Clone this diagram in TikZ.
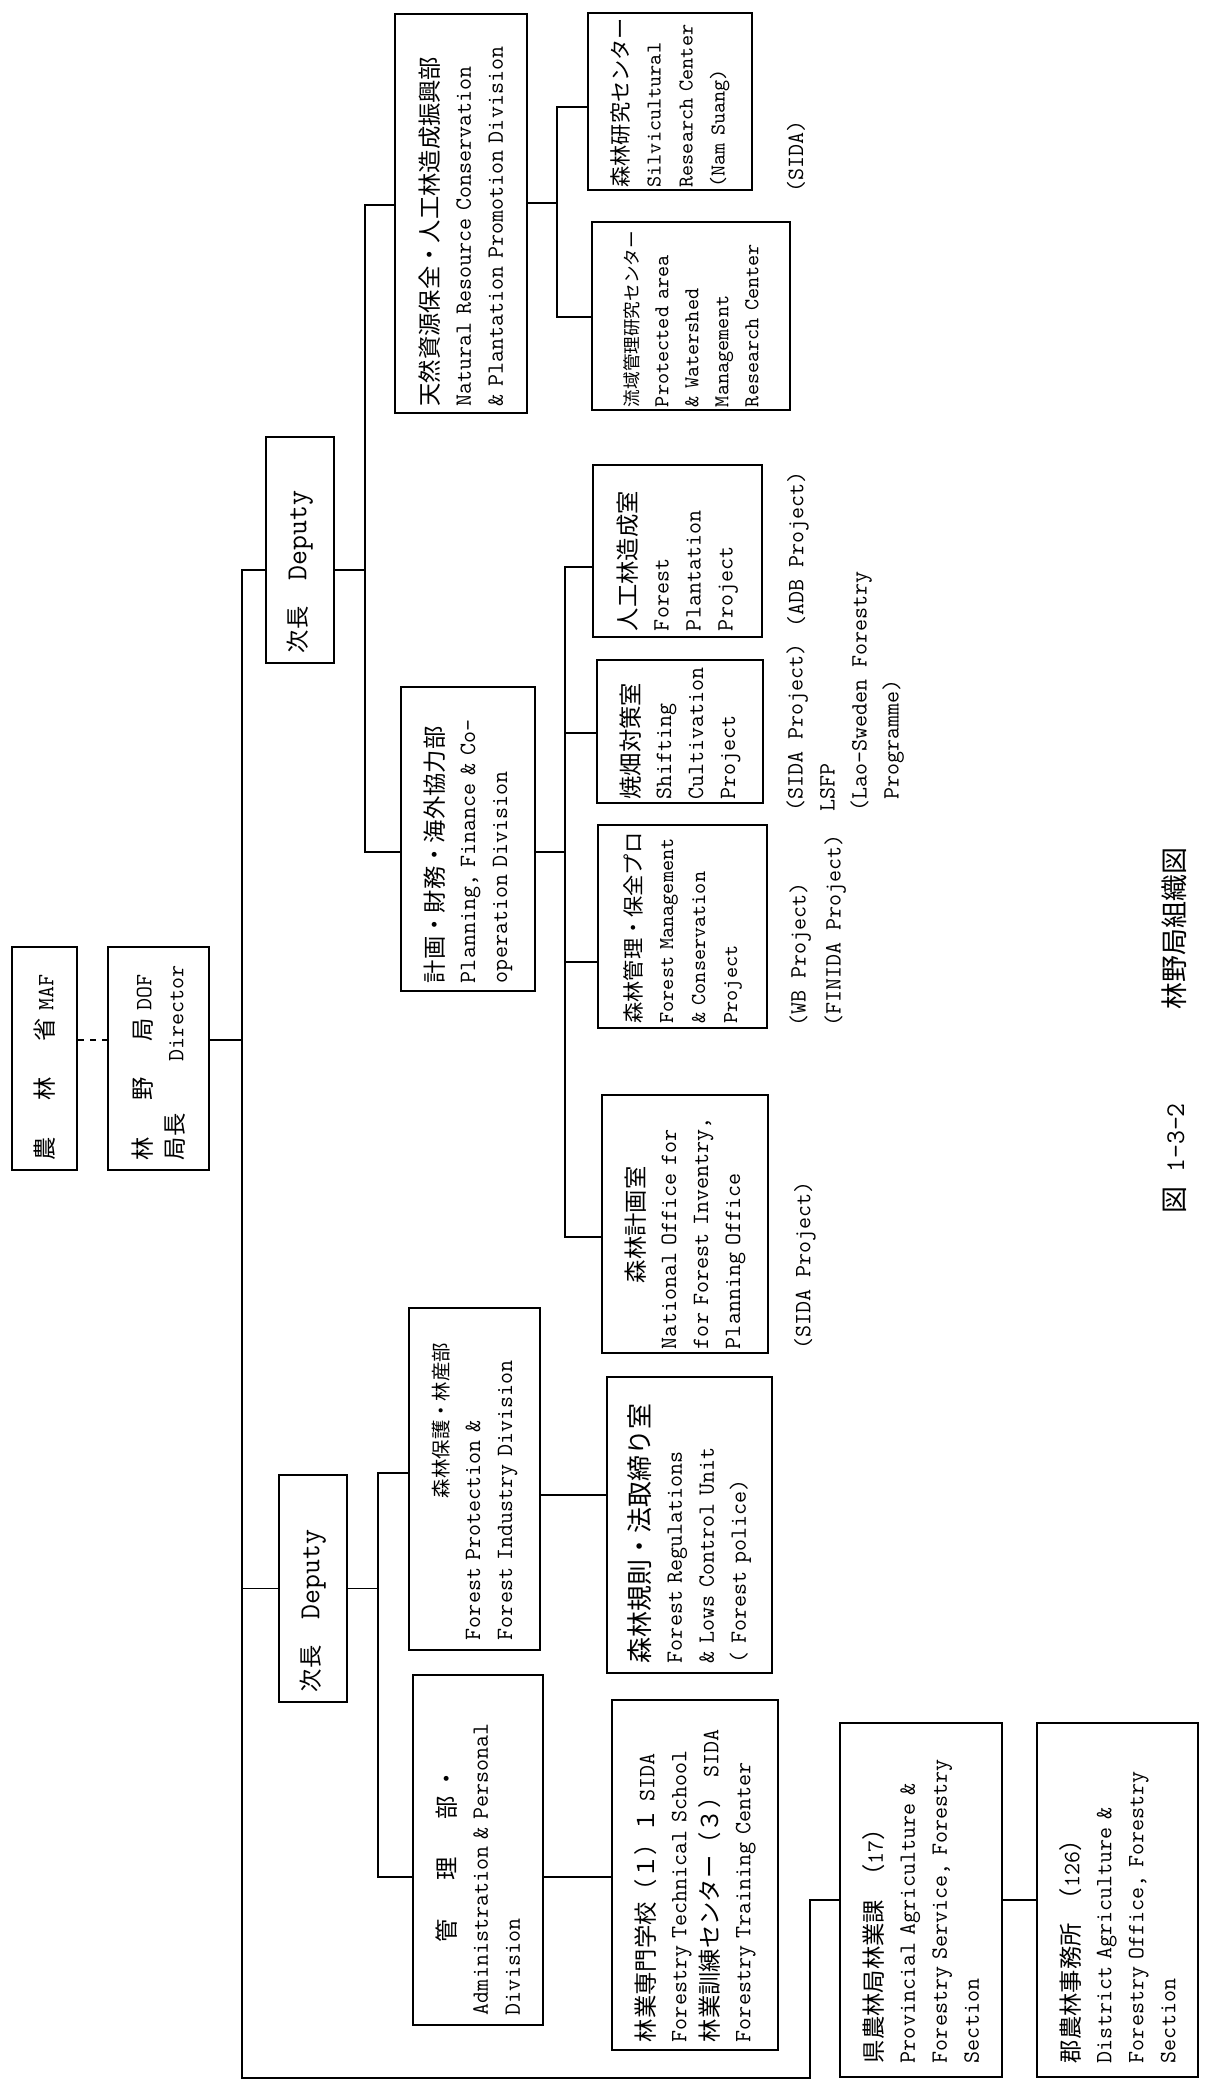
\documentclass[tikz,border=0pt]{standalone}
\usepackage{fontspec}
\usepackage{graphicx}
\newfontfamily\jp{Noto Sans CJK JP}
\begin{document}
\begin{tikzpicture}[x=0.5pt,y=-0.5pt,
  box/.style={draw, line width=1.1pt, rotate=90, inner sep=0pt, align=left,
    font=\ttfamily\fontsize{11.66}{16}\selectfont},
  lab/.style={rotate=90, inner sep=0pt, align=left,
    font=\ttfamily\fontsize{11.66}{16}\selectfont},
  link/.style={line width=0.9pt}]
\useasboundingbox (0,0) rectangle (1205,2082);

% ---- boxes ----
\node[box, minimum width=111.5pt, minimum height=32.5pt, text width=101.5pt] (maf) at (44.5,1058.5)
  {{\jp 農}\hspace{18pt}{\jp 林}\hspace{18pt}{\jp 省} MAF};
\node[box, minimum width=111.5pt, minimum height=50.5pt, text width=101.5pt] (dof) at (158.5,1058.5)
  {{\jp 林}\hspace{18pt}{\jp 野}\hspace{18pt}{\jp 局} DOF\\{\jp 局長}\hspace{26pt}Director};
\node[box, minimum width=113pt, minimum height=34pt, text width=103pt] (dep2) at (300,550)
  {{\jp 次長}\hspace{13pt}{\fontsize{14.5}{16}\selectfont Deputy}};
\node[box, minimum width=113.5pt, minimum height=34pt, text width=103.5pt] (dep1) at (313,1588.5)
  {{\jp 次長}\hspace{13pt}{\fontsize{14.5}{16}\selectfont Deputy}};
\node[box, minimum width=199.5pt, minimum height=66pt, text width=193pt] (nr) at (461,213.5)
  {{\jp 天然資源保全・人工林造成振興部}\\Natural Resource Conservation\\\& Plantation Promotion Division};
\node[box, minimum width=88.5pt, minimum height=82pt, text width=86pt,
  font=\ttfamily\fontsize{10.6}{16}\selectfont] (silv) at (670,101.5)
  {{\jp 森林研究センター}\\Silvicultural\\Research Center\\(Nam Suang)};
\node[box, minimum width=94pt, minimum height=99pt, text width=91pt,
  font=\ttfamily\fontsize{10.6}{15}\selectfont] (prot) at (691,316)
  {{\jp\fontsize{8.8}{15}\selectfont 流域管理研究センター}\\Protected area\\\& Watershed\\Management\\Research Center};
\node[box, minimum width=152pt, minimum height=67pt, text width=144pt] (plan) at (468,839)
  {{\jp 計画・財務・海外協力部}\\Planning, Finance \& Co-\\operation Division};
\node[box, minimum width=86pt, minimum height=84.5pt, text width=80pt] (fplant) at (677.5,551)
  {{\jp 人工林造成室}\\Forest\\Plantation\\Project};
\node[box, minimum width=71.5pt, minimum height=83pt, text width=68pt] (shift) at (680,731.5)
  {{\jp 焼畑対策室}\\Shifting\\Cultivation\\Project};
\node[box, minimum width=101.5pt, minimum height=84.5pt, text width=97pt,
  font=\ttfamily\fontsize{10.6}{16}\selectfont] (fmgmt) at (682.5,926.5)
  {{\jp 森林管理・保全プロ}\\Forest Management\\\& Conservation\\Project};
\node[box, minimum width=129pt, minimum height=83pt, text width=125pt] (natl) at (685,1224)
  {\hspace*{33pt}{\jp 森林計画室}\\National Office for\\for Forest Inventry,\\Planning Office};
\node[box, minimum width=171pt, minimum height=65.5pt, text width=161pt] (fprot) at (474.5,1479)
  {\hspace*{71pt}{\jp\fontsize{9.7}{16}\selectfont 森林保護・林産部}\\Forest Protection \&\\Forest Industry Division};
\node[box, minimum width=148pt, minimum height=82.5pt, text width=138pt] (freg) at (689.5,1525)
  {{\jp\fontsize{13}{16}\selectfont 森林規則・法取締り室}\\Forest Regulations\\\& Lows Control Unit\\( Forest police)};
\node[box, minimum width=175pt, minimum height=65pt, text width=165pt] (admin) at (478,1850)
  {\hspace*{36.5pt}{\jp 管}\hspace{19pt}{\jp 理}\hspace{19pt}{\jp 部}\hspace{3pt}{\jp ・}\\Administration \& Personal\\Division};
\node[box, minimum width=175pt, minimum height=83pt, text width=167pt] (school) at (695,1875)
  {{\jp 林業専門学校（１）１} SIDA\\Forestry Technical School\\{\jp 林業訓練センター（３）} SIDA\\Forestry Training Center};
\node[box, minimum width=177pt, minimum height=81pt, text width=163pt] (prov) at (921,1900)
  {{\jp 県農林局林業課}\hspace{6pt}{\jp （}17{\jp ）}\\Provincial Agriculture \&\\Forestry Service, Forestry\\Section};
\node[box, minimum width=177pt, minimum height=80.5pt, text width=163pt] (dist) at (1117.5,1900)
  {{\jp 郡農林事務所}\hspace{6pt}{\jp （}126{\jp ）}\\District Agriculture \&\\Forestry Office, Forestry\\Section};

% ---- labels ----
\node[lab, anchor=west] (lsilv) at (796,193) {(SIDA)};
\node[lab, anchor=west] (ladb) at (798,628) {(ADB Project)};
\node[lab, anchor=north west] (lshift) at (786,812)
  {(SIDA Project)\\LSFP\\(Lao-Sweden Forestry\\\hspace*{6pt}Programme)};
\node[lab, anchor=north west, font=\ttfamily\fontsize{11.66}{17.5}\selectfont] (lfm) at (789,1027)
  {(WB Project)\\(FINIDA Project)};
\node[lab, anchor=west] (lnat) at (805,1350) {(SIDA Project)};
\node[lab, anchor=west, font=\ttfamily\fontsize{13.5}{16}\selectfont] (cap) at (1174,1214)
  {{\jp 図} 1-3-2\hspace{47pt}{\jp 林野局組織図}};

% ---- connectors ----
\coordinate (trTop) at (242,570);
\coordinate (trBot) at (242,2078);
\coordinate (pvBot) at (810,2078);
\draw[link, dashed] (maf.south |- 0,1040) -- (dof.north |- 0,1040);
\draw[link] (dof.south |- 0,1040) -- (trTop |- 0,1040);
\draw[link] (dep2.north |- trTop) -- (trTop) -- (trBot) -- (pvBot) |- (prov.north);
\draw[link] (trTop |- dep1.north) -- (dep1.north);

\coordinate (f2a) at (365,205);
\coordinate (f2b) at (365,852);
\draw[link] (dep2.south |- trTop) -- (f2a |- trTop);
\draw[link] (nr.north |- f2a) -- (f2a) -- (f2b) -- (plan.north |- f2b);

\coordinate (fna) at (557,107);
\coordinate (fnb) at (557,317);
\draw[link] (nr.south |- 0,203) -- (fna |- 0,203);
\draw[link] (silv.north |- fna) -- (fna) -- (fnb) -- (prot.north |- fnb);

\coordinate (fpa) at (565,567);
\coordinate (fpb) at (565,1237);
\draw[link] (plan.south |- f2b) -- (fpa |- f2b);
\draw[link] (fplant.north |- fpa) -- (fpa) -- (fpb) -- (natl.north |- fpb);
\draw[link] (fpa |- 0,733) -- (shift.north |- 0,733);
\draw[link] (fpa |- 0,962) -- (fmgmt.north |- 0,962);

\coordinate (fda) at (378,1473);
\coordinate (fdb) at (378,1877);
\draw[link] (dep1.south) -- (fda |- dep1.south);
\draw[link] (fprot.north |- fda) -- (fda) -- (fdb) -- (admin.north |- fdb);
\draw[link] (fprot.south |- 0,1495) -- (freg.north |- 0,1495);
\draw[link] (admin.south |- fdb) -- (school.north |- fdb);
\draw[link] (prov.south) -- (dist.north);
\end{tikzpicture}
\end{document}
